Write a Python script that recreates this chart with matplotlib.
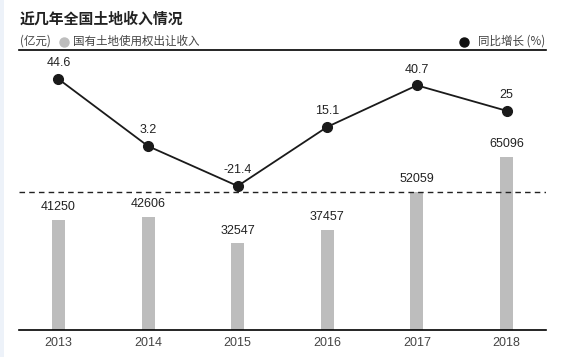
import matplotlib
matplotlib.use("Agg")
import matplotlib.pyplot as plt
from matplotlib.patches import Rectangle

plt.rcParams['font.family'] = ['Noto Sans CJK SC', 'DejaVu Sans']

# data
years = ['2013', '2014', '2015', '2016', '2017', '2018']
income = [41250, 42606, 32547, 37457, 52059, 65096]       # 亿元
growth = [44.6, 3.2, -21.4, 15.1, 40.7, 25]               # %
growth_labels = ['44.6', '3.2', '-21.4', '15.1', '40.7', '25']

bar_color = '#bdbdbd'
num_font = ['Liberation Sans', 'DejaVu Sans']

fig = plt.figure(figsize=(5.64, 3.57), dpi=100)
fig.patch.set_facecolor('white')
# light blue strip on the left edge
fig.patches.append(Rectangle((0, 0), 4 / 564, 1, transform=fig.transFigure,
                             facecolor='#edf2f9', edgecolor='none', zorder=0))

ax = fig.add_axes([19 / 564, 27 / 357, 527 / 564, 280 / 357])
x = list(range(len(years)))

# bars - land income
ax.bar(x, income, width=0.145, color=bar_color, zorder=2)
for xi, v in zip(x, income):
    ax.annotate(str(v), (xi, v), xytext=(0, 5), textcoords='offset points',
                ha='center', va='bottom', fontsize=9, color='#222222',
                family=num_font)
ax.set_xlim(-0.44, 5.44)
ax.set_ylim(0, 105300)
ax.set_yticks([])
ax.set_xticks(x)
ax.set_xticklabels(years, fontsize=9, color='#444444', family=num_font)
ax.tick_params(axis='x', length=0, pad=5)
for s in ['left', 'right']:
    ax.spines[s].set_visible(False)
ax.spines['top'].set_linewidth(1.2)
ax.spines['bottom'].set_linewidth(1.2)
ax.patch.set_alpha(0)

# growth line on its own scale
ax2 = ax.twinx()
ax2.set_ylim(-110.2, 62.5)
ax2.axhline(-24.8, color='#222222', lw=1, ls=(0, (4, 3)), zorder=1)
ax2.plot(x, growth, color='#1a1a1a', lw=1.3, marker='o', markersize=7, zorder=3)
for xi, v, lab in zip(x, growth, growth_labels):
    ax2.annotate(lab, (xi, v), xytext=(0, 7), textcoords='offset points',
                 ha='center', va='bottom', fontsize=9, color='#222222',
                 family=num_font)
ax2.set_yticks([])
for s in ax2.spines.values():
    s.set_visible(False)

# title and legend row
fig.text(20 / 564, 1 - 18.5 / 357, '近几年全国土地收入情况', fontsize=10.7,
         fontweight='bold', color='#222222', va='center', ha='left')
fig.text(20 / 564, 1 - 41.5 / 357, '(亿元)', fontsize=8.3, color='#444444',
         va='center', ha='left')
fig.lines.append(plt.Line2D([64 / 564], [1 - 41.5 / 357], marker='o', markersize=6.5,
                            color=bar_color, transform=fig.transFigure))
fig.text(73 / 564, 1 - 41.5 / 357, '国有土地使用权出让收入', fontsize=8.3,
         color='#444444', va='center', ha='left')
fig.lines.append(plt.Line2D([464 / 564], [1 - 41.5 / 357], marker='o', markersize=6.5,
                            color='#111111', transform=fig.transFigure))
fig.text(545 / 564, 1 - 41.5 / 357, '同比增长 (%)', fontsize=8.3,
         color='#444444', va='center', ha='right')

fig.savefig('out.png', dpi=100)
